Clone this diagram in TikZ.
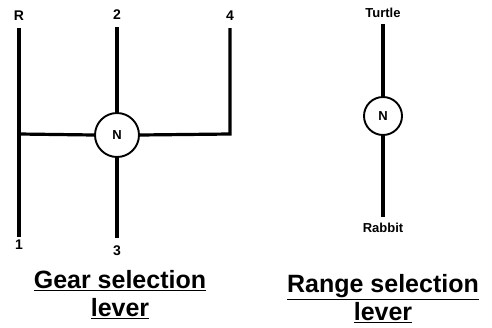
\documentclass[tikz,border=0pt]{standalone}
\usepackage{fontspec}
\setmainfont{Liberation Sans}
\begin{document}
\begin{tikzpicture}[x=1pt,y=-1pt,
  lev/.style={line width=3.2pt},
  knob/.style={circle,draw,line width=1.9pt,inner sep=0pt,font=\bfseries\fontsize{13}{15}\selectfont},
  lbl/.style={font=\bfseries\fontsize{14}{16}\selectfont,inner sep=0pt},
  captxt/.style={font=\bfseries\fontsize{25}{28}\selectfont,align=center,inner sep=0pt}]
\useasboundingbox (0,0) rectangle (492,327);
% gear lever
\node[knob,minimum size=44pt] (n1) at (117,135) {N};
\coordinate (tr) at (19,28);
\coordinate (bl) at (19,237);
\coordinate (ml) at (19,134);
\coordinate (t2) at (117,27);
\coordinate (b3) at (117,238);
\coordinate (t4) at (230,28);
\coordinate (mr) at (230,134);
\draw[lev] (tr) -- (bl);
\draw[lev] (ml) -- (n1.west);
\draw[lev] (n1.north) -- (t2);
\draw[lev] (n1.south) -- (b3);
\draw[lev,line join=miter] (n1.east) -- (mr) -- (t4);
\node[lbl] (lR) at (19,16) {R};
\node[lbl] (l2) at (117,15) {2};
\node[lbl] (l4) at (230,16) {4};
\node[lbl] (l1) at (19,245) {1};
\node[lbl] (l3) at (117,251) {3};
% range lever
\node[knob,minimum size=38pt] (n2) at (383,116) {N};
\coordinate (tt) at (383,24);
\coordinate (rb) at (383,217);
\draw[lev] (n2.north) -- (tt);
\draw[lev] (n2.south) -- (rb);
\node[lbl,font=\bfseries\fontsize{13}{15}\selectfont] (turtle) at (383,13) {Turtle};
\node[lbl,font=\bfseries\fontsize{13}{15}\selectfont] (rabbit) at (383,228) {Rabbit};
% captions
\node[captxt] (c1) at (120,295) {\underline{Gear selection}\\\underline{lever}};
\node[captxt] (c2) at (383,299) {\underline{Range selection}\\\underline{lever}};
\end{tikzpicture}
\end{document}
